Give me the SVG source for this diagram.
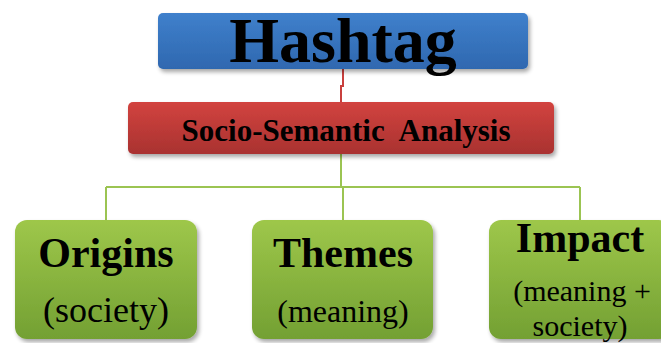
<svg xmlns="http://www.w3.org/2000/svg" width="661" height="343" viewBox="0 0 661 343">
<defs>
<linearGradient id="gBlue" x1="0" y1="0" x2="0" y2="1"><stop offset="0" stop-color="#3f80cc"/><stop offset="1" stop-color="#2f68b0"/></linearGradient>
<linearGradient id="gRed" x1="0" y1="0" x2="0" y2="1"><stop offset="0" stop-color="#d2433f"/><stop offset="1" stop-color="#a93230"/></linearGradient>
<linearGradient id="gGreen" x1="0" y1="0" x2="0" y2="1"><stop offset="0" stop-color="#9ec74a"/><stop offset="1" stop-color="#73a033"/></linearGradient>
<filter id="sh" x="-10%" y="-10%" width="125%" height="140%"><feGaussianBlur in="SourceAlpha" stdDeviation="2"/><feOffset dx="2" dy="3"/><feComponentTransfer><feFuncA type="linear" slope="0.35"/></feComponentTransfer><feMerge><feMergeNode/><feMergeNode in="SourceGraphic"/></feMerge></filter>
</defs>
<style>
.b{font-family:"Liberation Serif","Times New Roman",serif;font-weight:bold;fill:#000;text-anchor:middle}
.r{font-family:"Liberation Serif","Times New Roman",serif;fill:#000;text-anchor:middle}
.lr{fill:none;stroke:#c9403d;stroke-width:2}
.lg{fill:none;stroke:#9bc452;stroke-width:2}
</style>
<rect width="661" height="343" fill="#fff"/>
<g id="connectors">
<path class="lr" d="M343 68 V86 H341 V102"/>
<path class="lg" d="M341 154 V187 M106 187 H580 M106 187 V220 M343 187 V220 M580 187 V220"/>
</g>
<g id="hashtag">
<rect x="158" y="13" width="370" height="56" rx="5" fill="url(#gBlue)" filter="url(#sh)"/>
<text class="b" x="343" y="62" font-size="64">Hashtag</text>
</g>
<g id="analysis">
<rect x="128" y="102" width="426" height="52" rx="5" fill="url(#gRed)" filter="url(#sh)"/>
<text class="b" x="346" y="141" font-size="31" xml:space="preserve">Socio-Semantic  Analysis</text>
</g>
<g id="origins">
<rect x="15" y="220" width="182" height="119" rx="12" fill="url(#gGreen)" filter="url(#sh)"/>
<text class="b" x="106" y="267" font-size="42">Origins</text>
<text class="r" x="106" y="322" font-size="36">(society)</text>
</g>
<g id="themes">
<rect x="252" y="220" width="181" height="119" rx="12" fill="url(#gGreen)" filter="url(#sh)"/>
<text class="b" x="343" y="267" font-size="42">Themes</text>
<text class="r" x="343" y="322" font-size="32">(meaning)</text>
</g>
<g id="impact">
<rect x="489" y="220" width="182" height="119" rx="12" fill="url(#gGreen)" filter="url(#sh)"/>
<text class="b" x="580" y="252" font-size="42">Impact</text>
<text class="r" x="582" y="301" font-size="30">(meaning +</text>
<text class="r" x="580" y="336" font-size="30">society)</text>
</g>
</svg>
